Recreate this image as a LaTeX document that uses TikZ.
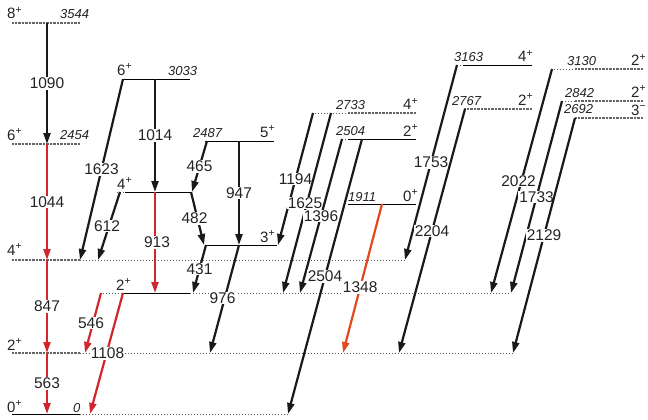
\documentclass[tikz,border=0pt]{standalone}
\usepackage{fontspec}
\setmainfont{Liberation Sans}
\usepackage{tikz}
\usetikzlibrary{arrows.meta}

\definecolor{trred}{RGB}{208,38,44}
\definecolor{trorange}{RGB}{226,72,30}
\definecolor{txt}{RGB}{35,35,35}

\begin{document}
\begin{tikzpicture}[
  x=1pt, y=-1pt,
  lvl/.style={draw=black, line width=0.8pt},
  lvlg/.style={draw=black!60, line width=1.4pt, dash pattern=on 1pt off 0.4pt},
  ext/.style={draw=black!65, line width=0.9pt, dash pattern=on 1pt off 2pt},
  tr/.style={draw=black!90, line width=2.2pt, -{Triangle[length=11pt,width=7pt]}},
  trr/.style={tr, draw=trred, fill=trred},
  tro/.style={tr, draw=trorange, fill=trorange},
  lbl/.style={fill=white, inner sep=1pt, text=txt, font=\fontsize{15.5}{17}\selectfont},
  en/.style={anchor=base west, inner sep=0pt, text=txt, font=\fontsize{13}{14}\selectfont\itshape},
  spn/.style={anchor=base west, inner sep=0pt, text=txt, font=\fontsize{15}{16}\selectfont},
]
\useasboundingbox (0,0) rectangle (648,420);

% ============ levels (coordinate at x=0, at the level's height) ==========
\foreach \n/\y in {0/414, 563/353, 1410/260, 2454/144, 3544/23,
                   3033/79, 2022/192, 2487/141, 1540/245, 1108/293,
                   2733/113, 2504/139, 1911/204, 3163/65, 2767/109,
                   3130/69, 2842/101, 2692/118}
  \coordinate (l\n) at (0,\y);

% ground band
\draw[lvl]  ([xshift=12]l0)    -- ([xshift=80]l0);
\draw[ext]  ([xshift=80]l0)    -- ([xshift=290]l0);
\draw[lvlg] ([xshift=12]l563)  -- ([xshift=80]l563);
\draw[ext]  ([xshift=80]l563)  -- ([xshift=515]l563);
\draw[lvlg] ([xshift=12]l1410) -- ([xshift=80]l1410);
\draw[ext]  ([xshift=80]l1410) -- ([xshift=405]l1410);
\draw[lvlg] ([xshift=12]l2454) -- ([xshift=80]l2454);
\draw[lvlg] ([xshift=12]l3544) -- ([xshift=80]l3544);

% gamma band
\draw[lvl]  ([xshift=123]l3033) -- ([xshift=190]l3033);
\draw[ext]  ([xshift=117]l2022) -- ([xshift=125]l2022);
\draw[lvl]  ([xshift=125]l2022) -- ([xshift=190]l2022);
\draw[ext]  ([xshift=100]l1108) -- ([xshift=123]l1108);
\draw[lvl]  ([xshift=123]l1108) -- ([xshift=190]l1108);
\draw[ext]  ([xshift=190]l1108) -- ([xshift=510]l1108);
\draw[lvl]  ([xshift=205]l2487) -- ([xshift=274]l2487);
\draw[lvl]  ([xshift=205]l1540) -- ([xshift=277]l1540);

% higher states
\draw[ext]  ([xshift=312]l2733) -- ([xshift=348]l2733);
\draw[lvlg] ([xshift=348]l2733) -- ([xshift=416]l2733);
\draw[ext]  ([xshift=342]l2504) -- ([xshift=348]l2504);
\draw[lvl]  ([xshift=348]l2504) -- ([xshift=416]l2504);
\draw[lvl]  ([xshift=348]l1911) -- ([xshift=416]l1911);
\draw[ext]  ([xshift=457]l3163) -- ([xshift=463]l3163);
\draw[lvl]  ([xshift=463]l3163) -- ([xshift=532]l3163);
\draw[lvlg] ([xshift=464]l2767) -- ([xshift=532]l2767);
\draw[ext]  ([xshift=551]l3130) -- ([xshift=575]l3130);
\draw[lvlg] ([xshift=575]l3130) -- ([xshift=643]l3130);
\draw[ext]  ([xshift=562]l2842) -- ([xshift=575]l2842);
\draw[lvlg] ([xshift=575]l2842) -- ([xshift=643]l2842);
\draw[lvlg] ([xshift=575]l2692) -- ([xshift=643]l2692);

% ============ spins and energies ==========================================
\node[spn] (s0)    at ([xshift=7,yshift=2]l0)      {0\textsuperscript{+}};
\node[en]  (e0)    at ([xshift=73,yshift=2]l0)     {0};
\node[spn] (s563)  at ([xshift=7,yshift=3]l563)    {2\textsuperscript{+}};
\node[spn] (s1410) at ([xshift=7,yshift=5]l1410)   {4\textsuperscript{+}};
\node[spn] (s2454) at ([xshift=7,yshift=4]l2454)   {6\textsuperscript{+}};
\node[en]  (e2454) at ([xshift=60,yshift=5]l2454)  {2454};
\node[spn] (s3544) at ([xshift=7,yshift=4]l3544)   {8\textsuperscript{+}};
\node[en]  (e3544) at ([xshift=60,yshift=4]l3544)  {3544};

\node[spn] (s3033) at ([xshift=117,yshift=4]l3033) {6\textsuperscript{+}};
\node[en]  (e3033) at ([xshift=168,yshift=3]l3033) {3033};
\node[spn] (s2022) at ([xshift=117,yshift=3]l2022) {4\textsuperscript{+}};
\node[spn] (s1108) at ([xshift=116,yshift=3]l1108) {2\textsuperscript{+}};
\node[en]  (e2487) at ([xshift=193,yshift=4]l2487) {2487};
\node[spn] (s2487) at ([xshift=260,yshift=4]l2487) {5\textsuperscript{+}};
\node[spn] (s1540) at ([xshift=260,yshift=3]l1540) {3\textsuperscript{+}};

\node[en]  (e2733) at ([xshift=336,yshift=4]l2733) {2733};
\node[spn] (s2733) at ([xshift=403,yshift=3]l2733) {4\textsuperscript{+}};
\node[en]  (e2504) at ([xshift=336,yshift=4]l2504) {2504};
\node[spn] (s2504) at ([xshift=403,yshift=3]l2504) {2\textsuperscript{+}};
\node[en]  (e1911) at ([xshift=348,yshift=3]l1911) {1911};
\node[spn] (s1911) at ([xshift=403,yshift=3]l1911) {0\textsuperscript{+}};
\node[en]  (e3163) at ([xshift=454,yshift=3]l3163) {3163};
\node[spn] (s3163) at ([xshift=518,yshift=3]l3163) {4\textsuperscript{+}};
\node[en]  (e2767) at ([xshift=452,yshift=3]l2767) {2767};
\node[spn] (s2767) at ([xshift=518,yshift=4]l2767) {2\textsuperscript{+}};
\node[en]  (e3130) at ([xshift=567,yshift=3]l3130) {3130};
\node[spn] (s3130) at ([xshift=631,yshift=3]l3130) {2\textsuperscript{+}};
\node[en]  (e2842) at ([xshift=565,yshift=4]l2842) {2842};
\node[spn] (s2842) at ([xshift=631,yshift=4]l2842) {2\textsuperscript{+}};
\node[en]  (e2692) at ([xshift=564,yshift=5]l2692) {2692};
\node[spn] (s2692) at ([xshift=631,yshift=3]l2692) {3\textsuperscript{\char"2212}};

% ============ transitions =================================================
\draw[tr]  ([xshift=47]l3544)  -- node[lbl] (g1090) {1090} ([xshift=47]l2454);
\draw[trr] ([xshift=47]l2454)  -- node[lbl] (g1044) {1044} ([xshift=47]l1410);
\draw[trr] ([xshift=47]l1410)  -- node[lbl] (g847)  {847}  ([xshift=47]l563);
\draw[trr] ([xshift=47]l563)   -- node[lbl] (g563)  {563}  ([xshift=47]l0);

\draw[tr]  ([xshift=123]l3033) -- node[lbl] (g1623) {1623} ([xshift=80]l1410);
\draw[tr]  ([xshift=120]l2022) -- node[lbl, xshift=-2] (g612) {612} ([xshift=98]l1410);
\draw[tr]  ([xshift=155]l3033) -- node[lbl] (g1014) {1014} ([xshift=155]l2022);
\draw[trr] ([xshift=155]l2022) -- node[lbl, xshift=2] (g913) {913} ([xshift=155]l1108);
\draw[tr]  ([xshift=207]l2487) -- node[lbl] (g465)  {465}  ([xshift=192]l2022);
\draw[tr]  ([xshift=191]l2022) -- node[lbl, xshift=-3] (g482) {482} ([xshift=204]l1540);
\draw[tr]  ([xshift=239]l2487) -- node[lbl] (g947)  {947}  ([xshift=239]l1540);
\draw[tr]  ([xshift=206]l1540) -- node[lbl] (g431)  {431}  ([xshift=193]l1108);
\draw[tr]  ([xshift=239]l1540) -- node[lbl, xshift=-2, yshift=1] (g976) {976} ([xshift=210]l563);
\draw[trr] ([xshift=101]l1108) -- node[lbl, xshift=-2] (g546) {546} ([xshift=85]l563);
\draw[trr] ([xshift=123]l1108) -- node[lbl, xshift=1] (g1108) {1108} ([xshift=90]l0);

\draw[tr]  ([xshift=313]l2733) -- node[lbl] (g1194) {1194} ([xshift=278]l1540);
\draw[tr]  ([xshift=331]l2733) -- node[lbl, xshift=-2] (g1625) {1625} ([xshift=283]l1108);
\draw[tr]  ([xshift=342]l2504) -- node[lbl] (g1396) {1396} ([xshift=300]l1108);
\draw[tr]  ([xshift=362]l2504) -- node[lbl] (g2504) {2504} ([xshift=288]l0);
\draw[tro] ([xshift=382]l1911) -- node[lbl, pos=0.56] (g1348) {1348} ([xshift=343]l563);

\draw[tr]  ([xshift=457]l3163) -- node[lbl] (g1753) {1753} ([xshift=405]l1410);
\draw[tr]  ([xshift=465]l2767) -- node[lbl] (g2204) {2204} ([xshift=399]l563);
\draw[tr]  ([xshift=552]l3130) -- node[lbl, xshift=-3] (g2022) {2022} ([xshift=491]l1108);
\draw[tr]  ([xshift=562]l2842) -- node[lbl] (g1733) {1733} ([xshift=511]l1108);
\draw[tr]  ([xshift=575]l2692) -- node[lbl] (g2129) {2129} ([xshift=513]l563);

\end{tikzpicture}
\end{document}
